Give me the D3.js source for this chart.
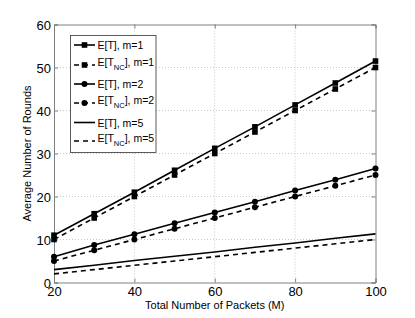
<!DOCTYPE html>
<html><head><meta charset="utf-8">
<script src="https://cdn.jsdelivr.net/npm/d3@7"></script>
<style>body{margin:0;background:#fff}svg{display:block;font-family:"Liberation Sans",Arial,sans-serif}</style>
</head><body><svg id="c" width="415" height="318"></svg>
<script>
const packets = [20,30,40,50,60,70,80,90,100];
const eT_m1   = [11,16,21,26.1,31.2,36.2,41.3,46.4,51.5];
const eTnc_m1 = [10,15,20,25,30,35,40,45,50];
const eT_m2   = [6,8.7,11.2,13.8,16.3,18.8,21.4,23.9,26.5];
const eTnc_m2 = [5,7.5,10,12.5,15,17.5,20,22.5,25];
const eT_m5   = [3,4,5.1,6.1,7.1,8.2,9.2,10.3,11.3];
const eTnc_m5 = [2,3,4,5,6,7,8,9,10];
const xTicks = [20,40,60,80,100];
const yTicks = [0,10,20,30,40,50,60];

const series = [
  {label:"E[T]", sub:"", m:1, v:eT_m1, dash:null, mark:"square"},
  {label:"E[T", sub:"NC", m:1, v:eTnc_m1, dash:"5,4", mark:"square"},
  {label:"E[T]", sub:"", m:2, v:eT_m2, dash:null, mark:"circle"},
  {label:"E[T", sub:"NC", m:2, v:eTnc_m2, dash:"5,4", mark:"circle"},
  {label:"E[T]", sub:"", m:5, v:eT_m5, dash:null, mark:null},
  {label:"E[T", sub:"NC", m:5, v:eTnc_m5, dash:"5,4", mark:null}
];

const svg = d3.select("#c");
const L=54, R=375.5, T=24.5, B=282.5;
const x = d3.scaleLinear().domain([20,100]).range([L,R]);
const y = d3.scaleLinear().domain([0,60]).range([B,T]);

// grid
const g = svg.append("g");
g.selectAll(".gx").data(xTicks.slice(1,-1)).enter().append("line")
 .attr("x1",d=>x(d)).attr("x2",d=>x(d)).attr("y1",T).attr("y2",B)
 .attr("stroke","#bbb").attr("stroke-width",0.8).attr("stroke-dasharray","1,2");
g.selectAll(".gy").data(yTicks.slice(1,-1)).enter().append("line")
 .attr("y1",d=>y(d)).attr("y2",d=>y(d)).attr("x1",L).attr("x2",R)
 .attr("stroke","#bbb").attr("stroke-width",0.8).attr("stroke-dasharray","1,2");

// axes
const ax = svg.append("g").attr("transform",`translate(0,${B})`)
  .call(d3.axisBottom(x).tickValues(xTicks).tickSize(-4).tickPadding(4.5));
const ay = svg.append("g").attr("transform",`translate(${L},0)`)
  .call(d3.axisLeft(y).tickValues(yTicks).tickSize(-4).tickPadding(3));
const axT = svg.append("g").attr("transform",`translate(0,${T})`)
  .call(d3.axisTop(x).tickValues(xTicks).tickSize(-4).tickFormat(""));
const ayR = svg.append("g").attr("transform",`translate(${R},0)`)
  .call(d3.axisRight(y).tickValues(yTicks).tickSize(-4).tickFormat(""));
[ax,ay,axT,ayR].forEach(a=>{
  a.select(".domain").attr("stroke","#808080");
  a.selectAll(".tick line").attr("stroke","#808080");
  a.selectAll("text").attr("fill","#000").style("font-size","13px").style("font-family","'Liberation Sans',Arial,sans-serif");
});
ay.selectAll("text").attr("dy","0.35em");

// lines
const line = d3.line().x((d,i)=>x(packets[i])).y(d=>y(d));
series.forEach(s=>{
  svg.append("path").datum(s.v).attr("d",line).attr("fill","none")
    .attr("stroke","#000").attr("stroke-width",1.6)
    .attr("stroke-dasharray",s.dash);
  if(s.mark==="square"){
    svg.selectAll(null).data(s.v).enter().append("rect")
      .attr("x",(d,i)=>x(packets[i])-2.8).attr("y",d=>y(d)-2.8)
      .attr("width",5.6).attr("height",5.6).attr("fill","#000");
  } else if(s.mark==="circle"){
    svg.selectAll(null).data(s.v).enter().append("circle")
      .attr("cx",(d,i)=>x(packets[i])).attr("cy",d=>y(d)).attr("r",3).attr("fill","#000");
  }
});

// legend
const lg = svg.append("g");
lg.append("rect").attr("x",70.5).attr("y",35.5).attr("width",85.5).attr("height",117)
  .attr("fill","#fff").attr("stroke","#333").attr("stroke-width",0.8);
const rowsY = [45,65,84,103,122.5,141];
series.forEach((s,i)=>{
  const yy = rowsY[i];
  lg.append("line").attr("x1",74).attr("x2",95).attr("y1",yy).attr("y2",yy)
    .attr("stroke","#000").attr("stroke-width",1.6).attr("stroke-dasharray",s.dash);
  if(s.mark==="square") lg.append("rect").attr("x",84.5-2.8).attr("y",yy-2.8).attr("width",5.6).attr("height",5.6).attr("fill","#000");
  if(s.mark==="circle") lg.append("circle").attr("cx",84.5).attr("cy",yy).attr("r",3).attr("fill","#000");
  const t = lg.append("text").attr("x",97.5).attr("y",yy+4).style("font-size","10.5px");
  if(s.sub){
    t.attr("y",yy+1);
    t.append("tspan").text(s.label);
    t.append("tspan").text(s.sub).attr("dy","4").style("font-size","7.5px");
    t.append("tspan").text("], m="+s.m).attr("dy","-4");
  } else {
    t.text(s.label+", m="+s.m);
  }
});

// axis labels
svg.append("text").attr("x",(L+R)/2).attr("y",309).attr("text-anchor","middle")
  .style("font-size","11px").text("Total Number of Packets (M)");
svg.append("text").attr("transform",`translate(31,${(T+B)/2}) rotate(-90)`).attr("text-anchor","middle")
  .style("font-size","11px").text("Average Number of Rounds");
</script></body></html>
